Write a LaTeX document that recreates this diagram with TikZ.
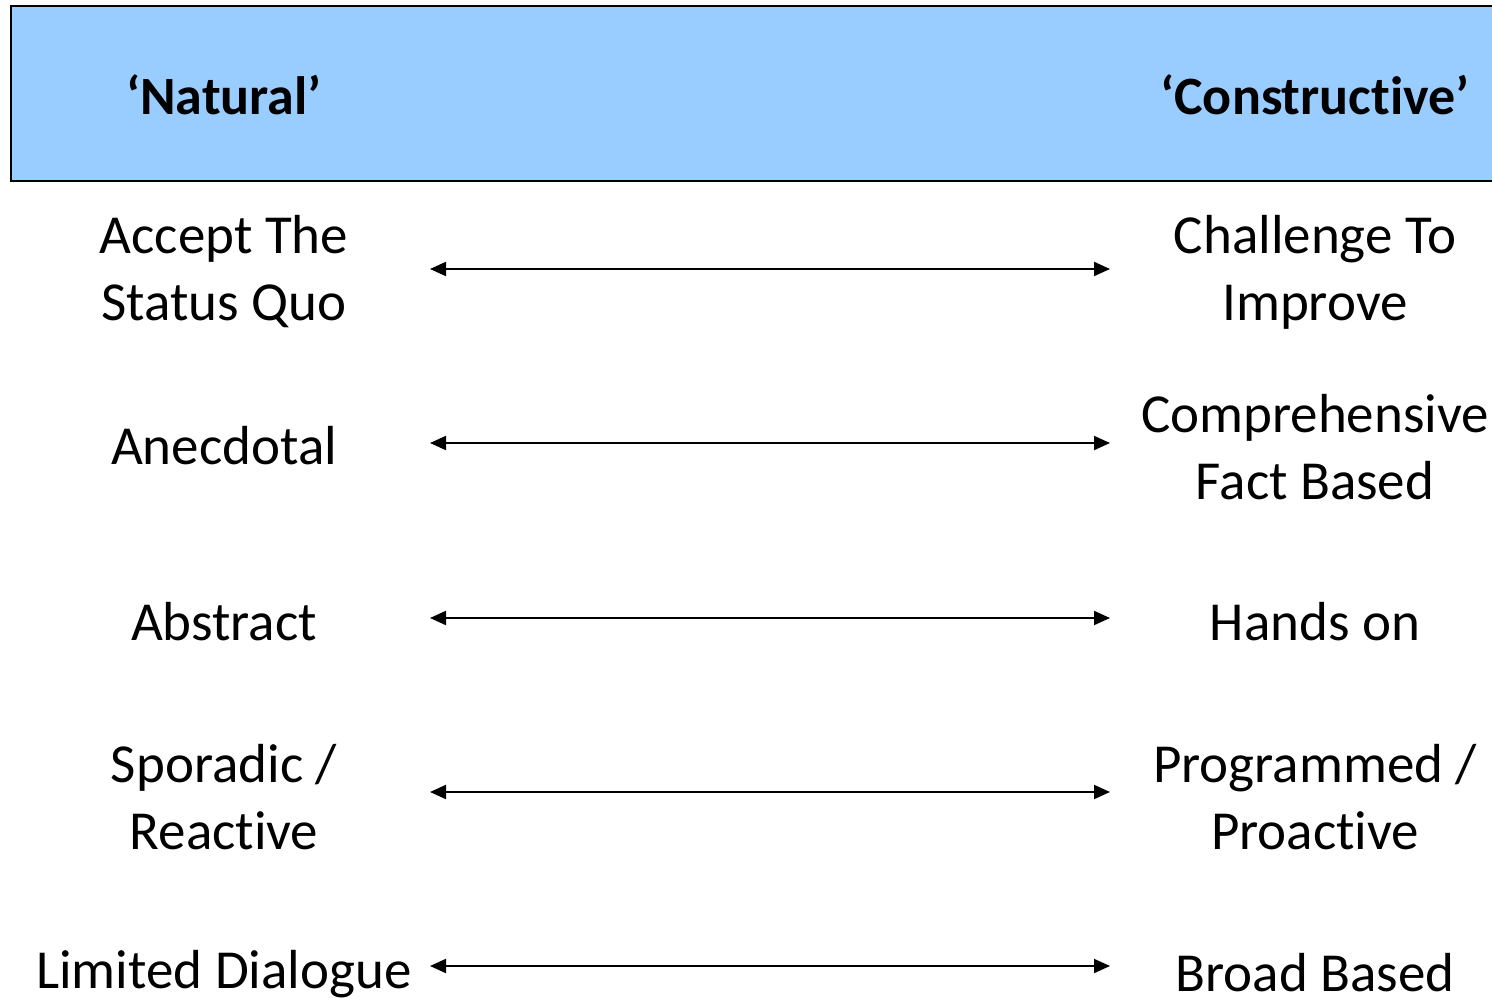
\documentclass[tikz,border=0pt]{standalone}
\usepackage{fontspec}
\setmainfont{Carlito}[RawFeature={-liga;-clig;-dlig;-calt}]
\usetikzlibrary{arrows.meta}
\definecolor{hdrblue}{HTML}{99CCFF}
\newcommand\tiNL{t\kern0pt i}
\begin{document}
\begin{tikzpicture}[x=1pt,y=-1pt,
  lbl/.style={align=center,inner sep=0pt,font=\fontsize{55}{67}\selectfont},
  hdr/.style={inner sep=0pt,font=\fontsize{54}{66}\selectfont\bfseries},
  dblarrow/.style={line width=2pt,{Triangle[length=16pt,width=14pt]}-{Triangle[length=16pt,width=14pt]}}]
\useasboundingbox (0,0) rectangle (1492,998);
\clip (0,0) rectangle (1492,998);
\fill[hdrblue] (11,6) rectangle (1500,181);
\draw[line width=2.5pt] (1500,6) -- (11,6) -- (11,181) -- (1500,181);
\node[hdr] (hn) at (224,95) {‘Natural’};
\node[hdr] (hc) at (1315,95) {‘Construc\tiNL ve’};
% rows
\node[lbl] (l1) at (224,272) {Accept The\\Status Quo};
\node[lbl] (r1) at (1315,272) {Challenge To\\Improve};
\node[lbl] (l2) at (224,446) {Anecdotal};
\node[lbl] (r2) at (1315,447) {Comprehensive\\Fact Based};
\node[lbl] (l3) at (224,622) {Abstract};
\node[lbl] (r3) at (1315,622) {Hands on};
\node[lbl] (l4) at (224,797) {Sporadic /\\Reac\tiNL ve};
\node[lbl] (r4) at (1315,797) {Programmed /\\Proac\tiNL ve};
\node[lbl] (l5) at (224,974) {Limited Dialogue};
\node[lbl] (r5) at (1315,973) {Broad Based};
\coordinate (a1) at (430,269); \coordinate (b1) at (1110,269);
\coordinate (a2) at (430,443); \coordinate (b2) at (1110,443);
\coordinate (a3) at (430,618); \coordinate (b3) at (1110,618);
\coordinate (a4) at (430,792); \coordinate (b4) at (1110,792);
\coordinate (a5) at (430,966); \coordinate (b5) at (1110,966);
\foreach \i in {1,...,5} \draw[dblarrow] (a\i) -- (b\i);
\end{tikzpicture}
\end{document}
